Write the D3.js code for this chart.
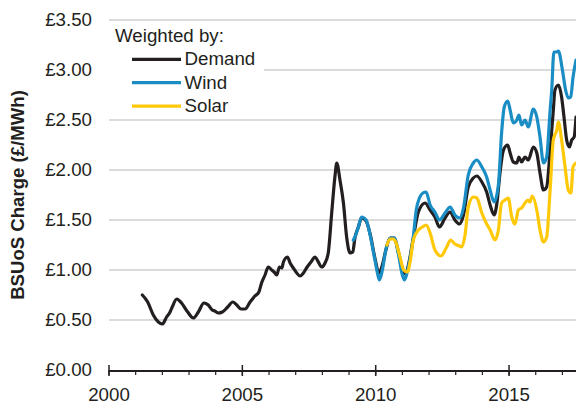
<!DOCTYPE html>
<html>
<head>
<meta charset="utf-8">
<script src="https://cdn.jsdelivr.net/npm/d3@7"></script>
<style>
  body { margin: 0; background: #fff; }
  svg { display: block; font-family: "Liberation Sans", Arial, sans-serif; }
</style>
</head>
<body>
<svg id="chart" width="576" height="405"></svg>
<script>
// [decimal year, £/MWh]
const demand = [
  [2001.25,0.75],[2001.45,0.68],[2001.66,0.55],[2001.85,0.48],[2002.0,0.46],[2002.16,0.53],
  [2002.29,0.58],[2002.37,0.63],[2002.54,0.71],[2002.72,0.67],[2002.95,0.58],[2003.16,0.52],
  [2003.35,0.58],[2003.56,0.67],[2003.72,0.65],[2003.87,0.60],[2003.97,0.59],[2004.1,0.57],
  [2004.25,0.58],[2004.45,0.63],[2004.64,0.68],[2004.79,0.65],[2004.95,0.61],[2005.1,0.61],
  [2005.29,0.68],[2005.47,0.74],[2005.62,0.78],[2005.72,0.87],[2005.85,0.95],[2005.97,1.03],
  [2006.1,1.00],[2006.19,0.98],[2006.29,0.95],[2006.39,1.03],[2006.48,1.02],[2006.54,1.08],
  [2006.69,1.13],[2006.79,1.07],[2006.91,1.02],[2007.04,0.97],[2007.16,0.94],[2007.29,0.97],
  [2007.43,1.03],[2007.6,1.09],[2007.72,1.13],[2007.85,1.08],[2007.97,1.03],[2008.1,1.07],
  [2008.22,1.17],[2008.35,1.57],[2008.47,1.93],[2008.54,2.07],[2008.66,1.90],[2008.79,1.67],
  [2008.91,1.33],[2009.04,1.17],[2009.14,1.18],[2009.22,1.32],[2009.35,1.43],[2009.47,1.52],
  [2009.64,1.49],[2009.79,1.36],[2009.97,1.12],[2010.12,0.97],[2010.25,1.05],[2010.38,1.20],
  [2010.54,1.32],[2010.7,1.32],[2010.85,1.18],[2011.02,1.00],[2011.12,0.96],[2011.25,1.08],
  [2011.41,1.32],[2011.6,1.58],[2011.85,1.67],[2012.04,1.60],[2012.22,1.53],[2012.39,1.43],
  [2012.6,1.52],[2012.79,1.58],[2012.97,1.50],[2013.14,1.46],[2013.29,1.55],[2013.47,1.83],
  [2013.66,1.92],[2013.79,1.94],[2013.98,1.88],[2014.16,1.78],[2014.29,1.65],[2014.44,1.55],
  [2014.55,1.68],[2014.66,1.97],[2014.79,2.20],[2014.95,2.25],[2015.04,2.17],[2015.16,2.08],
  [2015.29,2.07],[2015.37,2.13],[2015.47,2.08],[2015.6,2.13],[2015.72,2.10],[2015.91,2.23],
  [2016.04,2.17],[2016.16,1.97],[2016.29,1.80],[2016.41,1.83],[2016.54,2.20],[2016.66,2.60],
  [2016.72,2.80],[2016.85,2.85],[2016.97,2.73],[2017.06,2.53],[2017.16,2.30],[2017.26,2.23],
  [2017.35,2.30],[2017.44,2.33],[2017.51,2.53]
];

const wind = [
  [2009.16,1.30],[2009.22,1.33],[2009.35,1.43],[2009.47,1.53],[2009.64,1.50],[2009.79,1.35],
  [2009.97,1.10],[2010.1,0.93],[2010.14,0.90],[2010.25,1.00],[2010.38,1.20],[2010.54,1.32],
  [2010.7,1.32],[2010.85,1.16],[2011.0,0.95],[2011.08,0.90],[2011.2,1.00],[2011.41,1.33],
  [2011.52,1.60],[2011.64,1.72],[2011.77,1.77],[2011.89,1.78],[2012.04,1.65],[2012.22,1.58],
  [2012.39,1.50],[2012.6,1.57],[2012.79,1.63],[2012.97,1.55],[2013.14,1.52],[2013.29,1.62],
  [2013.47,1.95],[2013.66,2.07],[2013.79,2.10],[2013.98,2.03],[2014.16,1.93],[2014.29,1.80],
  [2014.44,1.68],[2014.6,1.85],[2014.72,2.37],[2014.82,2.63],[2014.95,2.69],[2015.04,2.60],
  [2015.16,2.47],[2015.29,2.50],[2015.37,2.55],[2015.47,2.45],[2015.6,2.50],[2015.72,2.43],
  [2015.91,2.61],[2016.04,2.53],[2016.16,2.33],[2016.29,2.07],[2016.41,2.13],[2016.54,2.60],
  [2016.6,2.80],[2016.68,3.18],[2016.78,3.18],[2016.85,3.19],[2017.0,3.00],[2017.12,2.80],
  [2017.22,2.72],[2017.31,2.73],[2017.4,2.93],[2017.51,3.10]
];

const solar = [
  [2010.42,1.25],[2010.54,1.31],[2010.66,1.31],[2010.75,1.28],[2010.91,1.13],[2011.05,1.00],
  [2011.19,0.98],[2011.3,1.10],[2011.41,1.30],[2011.6,1.40],[2011.75,1.43],[2011.89,1.45],
  [2012.04,1.37],[2012.22,1.20],[2012.45,1.14],[2012.66,1.23],[2012.81,1.30],[2012.97,1.26],
  [2013.14,1.24],[2013.22,1.23],[2013.35,1.35],[2013.47,1.63],[2013.66,1.73],[2013.79,1.72],
  [2013.98,1.57],[2014.16,1.46],[2014.29,1.40],[2014.47,1.30],[2014.6,1.40],[2014.72,1.67],
  [2014.85,1.70],[2014.97,1.72],[2015.1,1.53],[2015.22,1.46],[2015.35,1.60],[2015.47,1.62],
  [2015.6,1.67],[2015.7,1.70],[2015.78,1.68],[2015.87,1.74],[2016.04,1.60],[2016.16,1.40],
  [2016.29,1.28],[2016.41,1.33],[2016.54,1.80],[2016.66,2.30],[2016.79,2.40],[2016.85,2.48],
  [2016.97,2.30],[2017.1,2.03],[2017.22,1.80],[2017.32,1.77],[2017.4,2.03],[2017.51,2.07]
];

const yTicks = [0, 0.5, 1, 1.5, 2, 2.5, 3, 3.5];
const xMajor = [2000, 2005, 2010, 2015];
const xMinor = d3.range(2000, 2018);
const seriesNames = ["Demand", "Wind", "Solar"];
const seriesColors = ["#231f20", "#1a8dc5", "#ffc90a"];

const svg = d3.select("#chart");
const m = { left: 109, right: 576, top: 20, bottom: 370 };
const fs = 17.5;

const x = d3.scaleLinear().domain([2000, 2017.51]).range([m.left, m.right]);
const y = d3.scaleLinear().domain([0, 3.5]).range([m.bottom, m.top]);

// text in the original is a touch wider than Arial
function label(g, px, py, txt, anchor) {
  return g.append("text")
    .attr("transform", "translate(" + px + "," + py + ") scale(1.07,1)")
    .attr("text-anchor", anchor || "start")
    .attr("font-size", fs).attr("fill", "#231f20")
    .text(txt);
}

// gridlines
svg.append("g").selectAll("line")
  .data(yTicks.filter(d => d > 0))
  .enter().append("line")
  .attr("x1", m.left).attr("x2", m.right)
  .attr("y1", d => y(d)).attr("y2", d => y(d))
  .attr("stroke", "#cfcfcf").attr("stroke-width", 1.5);

// y labels
const yl = svg.append("g");
yTicks.forEach(d => label(yl, 92, y(d) + 6.3, "£" + d.toFixed(2), "end"));

svg.append("text")
  .attr("transform", "translate(24," + (m.top + m.bottom) / 2 + ") rotate(-90)")
  .attr("text-anchor", "middle")
  .attr("font-size", 18.6).attr("font-weight", "bold").attr("fill", "#231f20")
  .text("BSUoS Charge (£/MWh)");

// x axis
const xAxis = svg.append("g");
xAxis.selectAll("line.minor")
  .data(xMinor)
  .enter().append("line")
  .attr("x1", d => x(d)).attr("x2", d => x(d))
  .attr("y1", m.bottom).attr("y2", m.bottom + 5)
  .attr("stroke", "#231f20").attr("stroke-width", 1.2);
xAxis.selectAll("line.major")
  .data(xMajor)
  .enter().append("line")
  .attr("x1", d => x(d)).attr("x2", d => x(d))
  .attr("y1", m.bottom - 5).attr("y2", m.bottom + 6)
  .attr("stroke", "#231f20").attr("stroke-width", 1.5);
xAxis.append("line")
  .attr("x1", m.left).attr("x2", m.right)
  .attr("y1", m.bottom + 1).attr("y2", m.bottom + 1)
  .attr("stroke", "#231f20").attr("stroke-width", 2);
xMajor.forEach(d => label(xAxis, x(d), 400.5, d, "middle"));

// lines
const line = d3.line()
  .x(d => x(d[0]))
  .y(d => y(d[1]))
  .curve(d3.curveMonotoneX);

[demand, wind, solar].forEach((s, i) => {
  svg.append("path")
    .attr("d", line(s))
    .attr("fill", "none")
    .attr("stroke", seriesColors[i])
    .attr("stroke-width", 3.2)
    .attr("stroke-linejoin", "round")
    .attr("stroke-linecap", "round");
});

// legend
const legend = svg.append("g");
legend.append("rect")
  .attr("x", m.left).attr("y", 23).attr("width", 155).attr("height", 94)
  .attr("fill", "#fff");
label(legend, 115, 41.7, "Weighted by:");
seriesNames.forEach((name, i) => {
  const ly = 59.3 + i * 23.4;
  legend.append("line")
    .attr("x1", 132).attr("x2", 181)
    .attr("y1", ly).attr("y2", ly)
    .attr("stroke", seriesColors[i]).attr("stroke-width", 3.2);
  label(legend, 184.5, ly + 5.8, name);
});
</script>
</body>
</html>
